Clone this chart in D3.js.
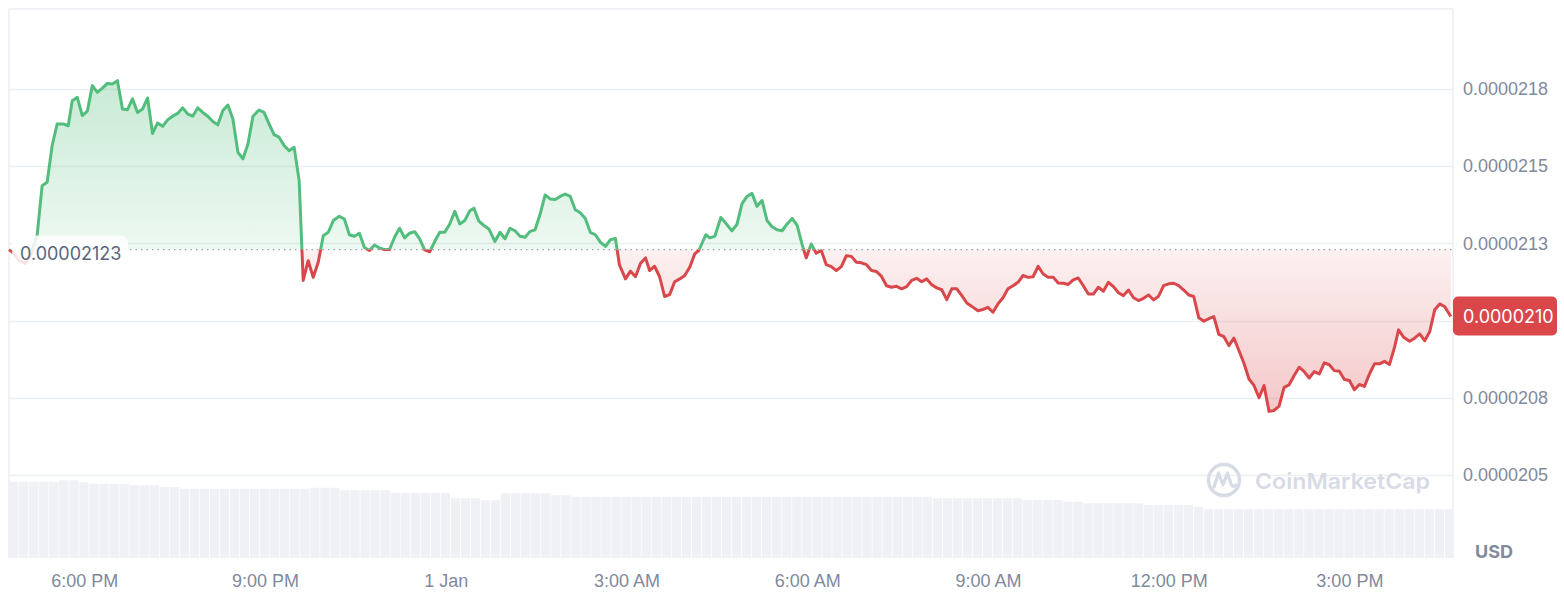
<!DOCTYPE html>
<html>
<head>
<meta charset="utf-8">
<script src="https://cdn.jsdelivr.net/npm/d3@7"></script>
<style>
  html, body { margin: 0; padding: 0; background: #ffffff; }
  svg { display: block; font-family: Inter, "Noto Sans", "DejaVu Sans", sans-serif; }
</style>
</head>
<body>
<svg id="chart" width="1564" height="608"></svg>
<script>
// ---------------- DATA ----------------
// Sample times (Dec 31 16:45 -> Jan 1 16:41), "HH:MM"
const times = [
"16:45","16:50","16:55","17:01","17:06","17:13","17:18","17:23","17:28","17:33","17:39","17:44",
"17:48","17:53","17:58","18:03","18:08","18:13","18:18","18:23","18:28","18:33","18:38","18:43",
"18:48","18:53","18:58","19:03","19:08","19:13","19:18","19:23","19:28","19:33","19:38","19:43",
"19:48","19:53","19:58","20:03","20:08","20:13","20:18","20:23","20:28","20:33","20:38","20:43",
"20:48","20:54","20:59","21:04","21:09","21:14","21:19","21:24","21:29","21:34","21:38","21:43",
"21:48","21:53","21:58","22:03","22:08","22:14","22:19","22:24","22:29","22:34","22:39","22:44",
"22:49","22:54","22:59","23:04","23:09","23:14","23:19","23:24","23:29","23:34","23:39","23:44",
"23:49","23:54","23:59","00:04","00:09","00:14","00:19","00:24","00:28","00:33","00:38","00:43",
"00:49","00:54","00:59","01:04","01:09","01:14","01:19","01:24","01:29","01:34","01:39","01:44",
"01:49","01:54","01:59","02:04","02:09","02:14","02:19","02:24","02:29","02:34","02:39","02:44",
"02:49","02:53","02:59","03:04","03:09","03:14","03:19","03:23","03:28","03:33","03:38","03:43",
"03:48","03:53","03:58","04:03","04:08","04:12","04:19","04:23","04:28","04:34","04:39","04:45",
"04:50","04:55","05:00","05:05","05:10","05:15","05:20","05:25","05:30","05:35","05:40","05:45",
"05:50","05:55","05:59","06:04","06:09","06:14","06:19","06:24","06:29","06:34","06:39","06:44",
"06:49","06:54","06:59","07:04","07:09","07:14","07:19","07:24","07:29","07:34","07:39","07:44",
"07:49","07:54","07:59","08:04","08:09","08:14","08:19","08:24","08:29","08:34","08:39","08:44",
"08:50","08:55","09:00","09:05","09:10","09:15","09:20","09:25","09:30","09:35","09:40","09:45",
"09:50","09:55","10:00","10:05","10:10","10:15","10:20","10:25","10:30","10:35","10:40","10:45",
"10:50","10:55","11:00","11:05","11:10","11:15","11:20","11:25","11:30","11:35","11:40","11:45",
"11:50","11:55","12:00","12:05","12:10","12:15","12:20","12:25","12:30","12:35","12:40","12:45",
"12:50","12:55","13:00","13:05","13:10","13:15","13:20","13:25","13:30","13:35","13:40","13:45",
"13:50","13:55","14:00","14:05","14:10","14:15","14:20","14:25","14:30","14:35","14:40","14:45",
"14:50","14:55","15:00","15:05","15:10","15:15","15:20","15:25","15:30","15:35","15:40","15:45",
"15:49","15:54","16:00","16:05","16:10","16:15","16:20","16:25","16:30","16:35","16:41"
];
// Price in units of 1e-8 USD
const pricesE8 = [
2123.0,2121.7,2119.4,2118.5,2120.7,2127.5,2143.7,2144.8,2156.7,2163.7,2163.7,2163.1,
2171.2,2172.3,2166.4,2167.8,2176.1,2173.9,2175.3,2176.8,2176.6,2177.7,2168.5,2168.3,
2171.8,2167.4,2168.5,2172.1,2160.6,2164.0,2162.9,2165.0,2166.2,2167.1,2168.9,2166.9,
2166.2,2168.9,2167.4,2166.2,2164.5,2163.4,2168.0,2169.8,2165.3,2154.5,2152.4,2157.2,
2166.2,2168.2,2167.4,2163.7,2160.2,2159.4,2156.7,2155.0,2156.1,2145.3,2113.0,2119.4,
2114.0,2118.9,2127.5,2128.6,2132.4,2133.8,2132.9,2127.8,2127.3,2128.3,2123.7,2122.7,
2124.5,2123.5,2123.0,2123.0,2127.0,2129.9,2126.8,2128.3,2128.8,2126.5,2122.9,2122.3,
2125.6,2128.6,2128.6,2131.3,2135.4,2131.3,2132.4,2135.6,2136.4,2132.2,2130.8,2129.7,
2125.6,2128.6,2126.5,2129.9,2129.1,2127.3,2127.0,2128.9,2129.4,2134.5,2140.7,2139.4,
2139.2,2140.2,2141.0,2140.2,2135.9,2134.9,2133.1,2128.6,2127.8,2125.4,2124.0,2126.2,
2126.6,2118.0,2113.5,2116.0,2114.2,2118.6,2120.3,2116.2,2117.6,2114.2,2107.8,2108.4,
2112.6,2113.5,2114.6,2117.3,2121.6,2122.7,2127.8,2126.8,2127.3,2133.4,2131.5,2129.1,
2131.1,2137.8,2140.2,2141.2,2137.0,2138.9,2132.4,2130.4,2129.4,2129.1,2131.3,2133.1,
2130.8,2124.6,2120.3,2124.8,2121.8,2122.7,2118.1,2117.5,2116.2,2117.5,2121.0,2120.8,
2118.9,2118.7,2118.1,2116.2,2115.9,2114.3,2111.3,2110.8,2111.1,2110.3,2111.0,2113.0,
2113.7,2112.6,2113.5,2111.6,2110.6,2110.0,2106.8,2110.3,2110.3,2108.1,2105.7,2104.6,
2103.2,2103.6,2104.3,2102.7,2105.4,2107.4,2110.3,2111.3,2112.4,2114.6,2114.0,2114.2,
2117.6,2115.1,2114.0,2114.0,2112.2,2112.1,2111.7,2113.2,2113.8,2111.3,2108.6,2108.6,
2110.8,2109.5,2112.4,2111.0,2109.0,2108.1,2109.9,2107.4,2106.5,2107.2,2108.3,2106.7,
2107.9,2111.3,2111.9,2112.1,2111.3,2109.9,2108.3,2107.8,2100.9,2099.8,2100.6,2101.3,
2095.5,2094.8,2091.9,2094.3,2090.3,2086.2,2081.1,2079.0,2075.0,2079.0,2070.6,2070.9,
2072.3,2078.4,2079.2,2082.2,2084.9,2083.5,2081.4,2083.5,2082.7,2086.3,2085.7,2083.8,
2083.6,2080.9,2080.6,2077.6,2079.3,2078.7,2082.7,2086.0,2086.0,2086.8,2085.8,2091.4,
2097.0,2094.6,2093.3,2094.3,2095.7,2093.5,2096.4,2103.5,2105.4,2104.5,2101.3
];
// 24h volume (arbitrary millions), one bar per 10 minutes from 16:45
const volumeM = [
76.3,76.3,76.3,76.3,76.3,77.7,77.7,75.7,74.3,74.3,74.3,74.3,
72.7,72.7,72.7,71.0,71.0,69.3,69.3,69.3,69.3,69.3,69.3,69.3,
69.3,69.3,69.3,69.3,69.3,69.3,70.3,70.3,70.3,67.7,67.7,67.7,
67.7,67.7,65.0,65.0,65.0,65.0,65.0,65.0,59.7,59.7,59.7,57.7,
57.7,64.7,64.7,64.7,64.7,64.7,62.7,62.7,61.3,61.3,61.3,61.3,
61.3,61.3,61.3,61.3,61.3,61.3,61.3,61.3,61.3,61.3,61.3,61.3,
61.3,61.3,61.3,61.3,61.3,61.3,61.3,61.3,61.3,61.3,61.3,61.3,
61.3,61.3,61.3,61.3,61.3,61.3,61.3,61.3,59.7,59.7,59.7,59.7,
59.7,59.7,59.7,59.7,59.7,58.0,58.0,58.0,58.0,56.3,56.3,54.7,
54.7,54.7,54.7,54.7,54.7,53.0,53.0,53.0,53.0,53.0,51.3,48.7,
48.7,48.7,48.7,48.7,48.7,48.7,48.7,48.7,48.7,48.7,48.7,48.7,
48.7,48.7,48.7,48.7,48.7,48.7,48.7,48.7,48.7,48.7,48.7,48.7
];
const baselinePrice = 0.00002123;
const baselineLabel = "0.00002123";
const currentLabel = "0.0000210";
const yTickValues = [0.0000205, 0.00002075, 0.000021, 0.00002125, 0.0000215, 0.00002175];
const yTickLabels = ["0.0000205", "0.0000208", "0.0000210", "0.0000213", "0.0000215", "0.0000218"];
const xTickTimes = ["2023-12-31T18:00Z","2023-12-31T21:00Z","2024-01-01T00:00Z","2024-01-01T03:00Z",
                    "2024-01-01T06:00Z","2024-01-01T09:00Z","2024-01-01T12:00Z","2024-01-01T15:00Z"];
const xTickLabels = ["6:00 PM","9:00 PM","1 Jan","3:00 AM","6:00 AM","9:00 AM","12:00 PM","3:00 PM"];
const currencyLabel = "USD";
const watermark = "CoinMarketCap";

// ---------------- LAYOUT ----------------
const W = 1564, H = 608;
const plotL = 9, plotR = 1453, plotT = 9, plotB = 558;
const GREEN = "#52bd7c", RED = "#d9474a";
const AXIS_TEXT = "#808a9d";
const FONT = 18;

const START = new Date(Date.UTC(2023, 11, 31, 16, 45));
const END = new Date(START.getTime() + 24 * 3600e3);

function parseTimes(ts) {
  let day = 0, prev = -1;
  return ts.map(s => {
    const [h, m] = s.split(":").map(Number);
    const mins = h * 60 + m;
    if (prev >= 0 && mins < prev) day++;
    prev = mins;
    return new Date(Date.UTC(2023, 11, 31 + day, h, m));
  });
}
const tDates = parseTimes(times);
const data = tDates.map((t, i) => ({ t, v: pricesE8[i] * 1e-8 }));

const x = d3.scaleUtc().domain([START, END]).range([plotL, 1454.8]);
const y = d3.scaleLinear().domain([0.0000205, 0.00002175]).range([475, 89]);
const yVol = d3.scaleLinear().domain([0, 80]).range([plotB, plotB - 80]);

const svg = d3.select("#chart");
const defs = svg.append("defs");
const yBase = y(baselinePrice);

defs.append("clipPath").attr("id", "plotClip").append("rect")
  .attr("x", plotL).attr("y", plotT).attr("width", plotR - plotL).attr("height", plotB - plotT);
defs.append("clipPath").attr("id", "clipAbove").append("rect")
  .attr("x", 0).attr("y", 0).attr("width", plotR).attr("height", yBase);
defs.append("clipPath").attr("id", "clipBelow").append("rect")
  .attr("x", 0).attr("y", yBase).attr("width", plotR).attr("height", H - yBase);

const yMaxPix = y(d3.max(data, d => d.v));
const yMinPix = y(d3.min(data, d => d.v));
const gG = defs.append("linearGradient").attr("id", "gradGreen")
  .attr("gradientUnits", "userSpaceOnUse").attr("x1", 0).attr("x2", 0).attr("y1", yMaxPix).attr("y2", yBase);
gG.append("stop").attr("offset", 0).attr("stop-color", GREEN).attr("stop-opacity", 0.32);
gG.append("stop").attr("offset", 1).attr("stop-color", GREEN).attr("stop-opacity", 0.1);
const gR = defs.append("linearGradient").attr("id", "gradRed")
  .attr("gradientUnits", "userSpaceOnUse").attr("x1", 0).attr("x2", 0).attr("y1", yBase).attr("y2", yMinPix);
gR.append("stop").attr("offset", 0).attr("stop-color", RED).attr("stop-opacity", 0.08);
gR.append("stop").attr("offset", 1).attr("stop-color", RED).attr("stop-opacity", 0.3);

// borders
const borderColor = "#eceef2";
svg.append("line").attr("x1", plotL).attr("x2", plotR).attr("y1", plotT).attr("y2", plotT)
  .attr("stroke", borderColor).attr("stroke-width", 1.5);
svg.append("line").attr("x1", plotL).attr("x2", plotL).attr("y1", plotT).attr("y2", plotB)
  .attr("stroke", borderColor).attr("stroke-width", 1.5);
svg.append("line").attr("x1", plotR).attr("x2", plotR).attr("y1", plotT).attr("y2", plotB)
  .attr("stroke", borderColor).attr("stroke-width", 1.5);

// gridlines
svg.append("g").selectAll("line").data(yTickValues).join("line")
  .attr("x1", plotL).attr("x2", plotR)
  .attr("y1", d => Math.round(y(d)) + 0.5).attr("y2", d => Math.round(y(d)) + 0.5)
  .attr("stroke", "#eceff2").attr("stroke-width", 1.5);

// volume bars
const barStep = x(new Date(START.getTime() + 600e3)) - x(START);
svg.append("g").attr("clip-path", "url(#plotClip)")
  .selectAll("rect").data(volumeM).join("rect")
  .attr("x", (d, i) => x(new Date(START.getTime() + i * 600e3)))
  .attr("width", barStep - 0.7)
  .attr("y", d => yVol(d))
  .attr("height", d => plotB - yVol(d))
  .attr("fill", "#eff1f4");

// areas
const area = d3.area().x(d => x(d.t)).y0(yBase).y1(d => y(d.v));
const line = d3.line().x(d => x(d.t)).y(d => y(d.v));
svg.append("path").datum(data).attr("d", area).attr("fill", "url(#gradGreen)").attr("clip-path", "url(#clipAbove)");
svg.append("path").datum(data).attr("d", area).attr("fill", "url(#gradRed)").attr("clip-path", "url(#clipBelow)");

// baseline dotted
svg.append("line").attr("x1", plotL).attr("x2", plotR).attr("y1", yBase).attr("y2", yBase)
  .attr("stroke", "#9199a8").attr("stroke-width", 1.4).attr("stroke-dasharray", "1.4,4.1");

// lines
svg.append("path").datum(data).attr("d", line).attr("fill", "none").attr("stroke", GREEN)
  .attr("stroke-width", 3).attr("stroke-linejoin", "round").attr("clip-path", "url(#clipAbove)");
svg.append("path").datum(data).attr("d", line).attr("fill", "none").attr("stroke", RED)
  .attr("stroke-width", 3).attr("stroke-linejoin", "round").attr("clip-path", "url(#clipBelow)");

// watermark
const wm = svg.append("g").attr("fill", "none").attr("stroke", "#d6dbe5");
wm.append("circle").attr("cx", 1224).attr("cy", 480).attr("r", 15.5).attr("stroke-width", 3.4);
wm.append("path").attr("d", "M1214,487 L1218.5,473 L1223,485 L1227.5,473 L1231,484 Q1233,488 1236,485")
  .attr("stroke-width", 3.2).attr("stroke-linejoin", "round").attr("stroke-linecap", "round");
svg.append("text").attr("x", 1255).attr("y", 481).attr("dy", "0.35em")
  .attr("font-size", 22).attr("font-weight", 600).attr("fill", "#d6dbe5")
  .attr("textLength", 175).attr("lengthAdjust", "spacingAndGlyphs").text(watermark);

// current price position
const last = data[data.length - 1];
const yLast = y(last.v);

// y axis (the tick hidden by the current-price tag is not drawn)
const yAxis = d3.axisRight(y).tickValues(yTickValues.filter(v => Math.abs(y(v) - yLast) > 20))
  .tickFormat(d => yTickLabels[yTickValues.indexOf(d)]).tickSize(0).tickPadding(0);
const gy = svg.append("g").attr("transform", `translate(1463,0)`).call(yAxis);
gy.select(".domain").remove();
gy.selectAll("text").attr("fill", AXIS_TEXT).attr("font-size", FONT).attr("font-family", null);

// x axis
const xAxis = d3.axisBottom(x).tickValues(xTickTimes.map(s => new Date(s))).tickFormat((d, i) => xTickLabels[i]).tickSize(0).tickPadding(0);
const gx = svg.append("g").attr("transform", `translate(0,574)`).call(xAxis);
gx.select(".domain").remove();
gx.selectAll("text").attr("fill", AXIS_TEXT).attr("font-size", FONT).attr("font-family", null);

// USD
svg.append("text").attr("x", 1475).attr("y", 552).attr("dy", "0.35em")
  .attr("font-size", 18).attr("font-weight", 700).attr("fill", AXIS_TEXT).text(currencyLabel);

// baseline label
svg.append("rect").attr("x", 12).attr("y", yBase - 14).attr("width", 116).attr("height", 36).attr("rx", 7)
  .attr("fill", "#ffffff").attr("fill-opacity", 0.85);
svg.append("text").attr("x", 20).attr("y", yBase + 4.5).attr("dy", "0.35em")
  .attr("font-size", FONT).attr("fill", "#58667e").text(baselineLabel);

// current price tag
svg.append("rect").attr("x", plotR).attr("y", yLast - 20).attr("width", 104).attr("height", 39).attr("rx", 5)
  .attr("fill", RED);
svg.append("text").attr("x", 1463).attr("y", yLast).attr("dy", "0.35em")
  .attr("font-size", FONT).attr("fill", "#ffffff").text(currentLabel);
</script>
</body>
</html>
